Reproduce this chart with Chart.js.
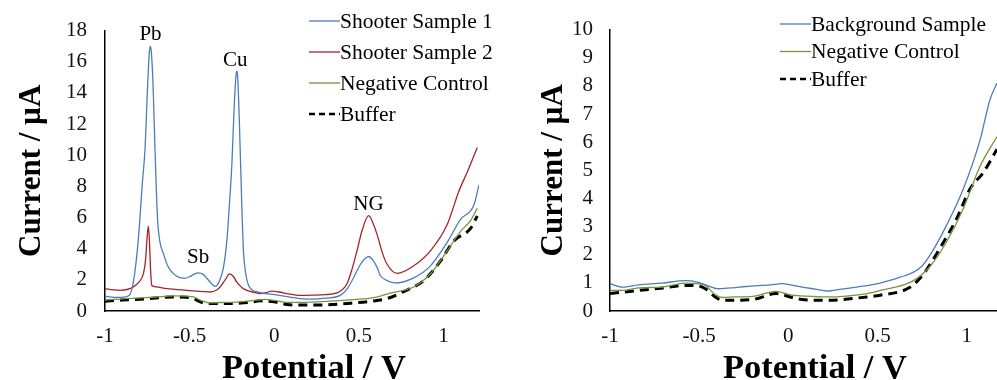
<!DOCTYPE html>
<html>
<head>
<meta charset="utf-8">
<script src="https://cdn.jsdelivr.net/npm/chart.js@4.4.1/dist/chart.umd.min.js"></script>
<style>
  html, body { margin: 0; padding: 0; background: #fff; }
  #wrap { position: relative; width: 997px; height: 380px; overflow: hidden; }
  .panel { position: absolute; top: 0; height: 380px; }
</style>
</head>
<body>
<div id="wrap">
  <div class="panel" style="left:0;width:500px"><canvas id="left" width="500" height="380"></canvas></div>
  <div class="panel" style="left:500px;width:497px"><canvas id="right" width="497" height="380"></canvas></div>
</div>
<script>
// ---- left panel: shooter samples (potential V, current uA) ----
const shooter1Pot = [-1, -0.95, -0.9, -0.86, -0.84, -0.82, -0.8, -0.78, -0.763, -0.748, -0.738, -0.732, -0.726, -0.716, -0.704, -0.69, -0.675, -0.655, -0.63, -0.6, -0.566, -0.53, -0.5, -0.47, -0.448, -0.42, -0.398, -0.37, -0.349, -0.325, -0.3, -0.28, -0.265, -0.25, -0.235, -0.225, -0.221, -0.217, -0.207, -0.195, -0.182, -0.165, -0.152, -0.13, -0.1, -0.05, 0, 0.05, 0.1, 0.15, 0.233, 0.3, 0.39, 0.43, 0.46, 0.49, 0.51, 0.535, 0.558, 0.58, 0.608, 0.627, 0.667, 0.716, 0.824, 0.923, 1.022, 1.1, 1.18, 1.21];
const shooter1Cur = [0.95, 0.88, 0.88, 0.98, 1.45, 2.8, 5.0, 8.1, 10.5, 14.5, 16.6, 17.0, 16.6, 14.5, 10.2, 6.0, 4.4, 3.7, 2.9, 2.45, 2.17, 2.1, 2.2, 2.38, 2.45, 2.35, 2.1, 1.75, 1.58, 1.9, 2.8, 4.5, 6.8, 9.5, 13.5, 15.2, 15.4, 15.2, 12.5, 8.0, 3.9, 2.2, 1.65, 1.35, 1.22, 1.12, 1.05, 0.97, 0.88, 0.8, 0.76, 0.82, 1.0, 1.4, 1.96, 2.6, 3.0, 3.35, 3.5, 3.3, 2.8, 2.28, 1.95, 1.8, 2.13, 2.9, 4.4, 5.87, 6.8, 8.1];

const shooter2Pot = [-1, -0.95, -0.91, -0.87, -0.833, -0.8, -0.773, -0.76, -0.752, -0.744, -0.738, -0.73, -0.724, -0.7, -0.635, -0.517, -0.42, -0.379, -0.34, -0.32, -0.29, -0.264, -0.24, -0.221, -0.19, -0.162, -0.12, -0.083, -0.04, -0.014, 0.03, 0.075, 0.154, 0.233, 0.3, 0.371, 0.43, 0.46, 0.489, 0.52, 0.558, 0.585, 0.608, 0.64, 0.667, 0.726, 0.824, 0.923, 1.022, 1.09, 1.14, 1.2];
const shooter2Cur = [1.44, 1.35, 1.33, 1.38, 1.54, 1.85, 2.4, 3.3, 4.6, 5.44, 4.6, 2.5, 1.65, 1.55, 1.44, 1.33, 1.25, 1.22, 1.35, 1.54, 2.0, 2.38, 2.2, 1.85, 1.5, 1.33, 1.2, 1.12, 1.2, 1.28, 1.22, 1.12, 1.0, 1.02, 1.05, 1.16, 1.75, 2.7, 3.86, 5.2, 6.12, 5.6, 4.9, 3.7, 3.0, 2.42, 2.9, 3.86, 5.55, 7.66, 8.9, 10.5];

const negLeftPot = [-1, -0.9, -0.79, -0.7, -0.596, -0.52, -0.477, -0.438, -0.4, -0.379, -0.3, -0.2, -0.1, -0.053, 0, 0.075, 0.15, 0.25, 0.33, 0.43, 0.568, 0.627, 0.686, 0.824, 0.923, 1.022, 1.1, 1.16, 1.2];
const negLeftCur = [0.7, 0.78, 0.84, 0.9, 0.97, 0.95, 0.9, 0.7, 0.55, 0.53, 0.55, 0.59, 0.7, 0.74, 0.68, 0.55, 0.55, 0.58, 0.63, 0.7, 0.82, 0.95, 1.15, 1.54, 2.39, 3.86, 5.1, 5.8, 6.6];

const bufLeftPot = [-1, -0.9, -0.79, -0.6, -0.52, -0.477, -0.44, -0.4, -0.3, -0.24, -0.15, -0.083, 0, 0.075, 0.154, 0.25, 0.35, 0.43, 0.568, 0.667, 0.765, 0.884, 0.982, 1.061, 1.16, 1.2];
const bufLeftCur = [0.63, 0.7, 0.76, 0.9, 0.88, 0.8, 0.6, 0.49, 0.48, 0.49, 0.55, 0.65, 0.59, 0.42, 0.38, 0.38, 0.42, 0.48, 0.62, 0.8, 1.25, 1.96, 3.2, 4.5, 5.3, 6.1];

// ---- right panel: background sample ----
const bgPot = [-1, -0.93, -0.84, -0.708, -0.577, -0.51, -0.465, -0.39, -0.3, -0.24, -0.1, -0.035, 0.02, 0.077, 0.15, 0.217, 0.3, 0.385, 0.515, 0.627, 0.702, 0.75, 0.796, 0.889, 0.982, 1.076, 1.13, 1.17];
const bgCur = [0.97, 0.85, 0.93, 0.99, 1.08, 1.03, 0.93, 0.79, 0.83, 0.87, 0.93, 0.97, 0.92, 0.85, 0.78, 0.71, 0.78, 0.85, 0.99, 1.2, 1.38, 1.6, 2.0, 3.07, 4.35, 6.1, 7.5, 8.1];

const negRightPot = [-1, -0.93, -0.84, -0.708, -0.577, -0.51, -0.465, -0.418, -0.37, -0.3, -0.2, -0.07, 0.02, 0.067, 0.217, 0.441, 0.515, 0.702, 0.796, 0.889, 0.982, 1.076, 1.17];
const negRightCur = [0.73, 0.73, 0.82, 0.85, 0.99, 0.97, 0.91, 0.62, 0.48, 0.5, 0.52, 0.7, 0.56, 0.54, 0.5, 0.62, 0.73, 1.08, 1.6, 2.48, 3.65, 5.16, 6.2];

const bufRightPot = [-1, -0.84, -0.7, -0.577, -0.5, -0.465, -0.41, -0.37, -0.2, -0.07, 0.02, 0.077, 0.217, 0.441, 0.515, 0.684, 0.758, 0.852, 0.945, 1.02, 1.094, 1.17];
const bufRightCur = [0.62, 0.73, 0.82, 0.91, 0.88, 0.79, 0.5, 0.38, 0.41, 0.62, 0.48, 0.41, 0.38, 0.5, 0.56, 0.85, 1.32, 2.25, 3.3, 4.35, 4.93, 5.75];

const xTicks = [-1, -0.5, 0, 0.5, 1];
const peakLabels = ['Pb', 'Sb', 'Cu', 'NG'];
const peakPot = [-0.731, -0.45, -0.231, 0.557];
const peakCur = [17.4, 3.1, 15.7, 6.5];

const SERIF = "'Liberation Serif', 'Times New Roman', serif";
const BLUE = '#4a7ebb', RED = '#a8222a', GREEN = '#77933c', BLACK = '#000';

// draws the in-plot legend, peak names and the x axis title
const extras = {
  id: 'extras',
  afterDraw(chart, args, opts) {
    const ctx = chart.ctx;
    ctx.save();
    ctx.fillStyle = '#000';
    ctx.font = '21px ' + SERIF;
    ctx.textAlign = 'center';
    ctx.textBaseline = 'alphabetic';
    (opts.peaks || []).forEach(p => {
      ctx.fillText(p.text, chart.scales.x.getPixelForValue(p.v), chart.scales.y.getPixelForValue(p.i));
    });

    ctx.font = '21.5px ' + SERIF;
    ctx.textAlign = 'left';
    ctx.textBaseline = 'middle';
    chart.data.datasets.forEach((ds, k) => {
      const y = opts.legendY + k * opts.legendGap;
      ctx.beginPath();
      ctx.strokeStyle = ds.borderColor;
      ctx.lineWidth = ds.borderDash.length ? 2.5 : 1.3;
      ctx.setLineDash(ds.borderDash.length ? [6, 4] : []);
      ctx.moveTo(opts.legendX, y);
      ctx.lineTo(opts.legendX + 31, y);
      ctx.stroke();
      ctx.setLineDash([]);
      ctx.fillText(ds.label, opts.legendX + 31, y + 1);
    });

    ctx.font = 'bold 34.5px ' + SERIF;
    ctx.textAlign = 'center';
    ctx.textBaseline = 'alphabetic';
    ctx.fillText('Potential / V', opts.titleX, 378);
    ctx.restore();
  }
};

function line(label, pot, cur, color, dashed) {
  return {
    label: label,
    data: pot.map((v, i) => ({ x: v, y: cur[i] })),
    borderColor: color,
    borderWidth: dashed ? 3 : 1.3,
    borderDash: dashed ? [9, 6] : [],
    pointRadius: 0,
    cubicInterpolationMode: 'monotone',
    fill: false
  };
}

function panel(id, datasets, o) {
  return new Chart(document.getElementById(id), {
    type: 'line',
    data: { datasets: datasets },
    options: {
      responsive: false,
      animation: false,
      devicePixelRatio: 1,
      layout: { padding: { top: 25, right: o.padRight, left: 0, bottom: 0 } },
      plugins: {
        legend: { display: false },
        tooltip: { enabled: false },
        extras: o.extras
      },
      scales: {
        x: {
          type: 'linear', min: -1, max: o.xMax,
          grid: { display: false, drawTicks: false },
          border: { color: '#000', width: 1.5 },
          afterBuildTicks: s => { s.ticks = xTicks.map(v => ({ value: v })); },
          ticks: { padding: 13, color: '#111', autoSkip: false, callback: v => String(v),
                   font: { family: SERIF, size: 21 } },
          afterFit: s => { s.height = 69; }
        },
        y: {
          min: 0, max: o.yMax,
          grid: { display: false, drawTicks: false },
          border: { color: '#000', width: 1.5 },
          ticks: { stepSize: o.yStep, padding: o.tickPad, color: '#111', autoSkip: false,
                   font: { family: SERIF, size: 21 } },
          title: { display: true, text: 'Current / µA', color: '#000', padding: { top: o.titlePad, bottom: 0 },
                   font: { family: SERIF, size: 31, weight: 'bold' } },
          afterFit: s => { s.width = o.yWidth; }
        }
      }
    },
    plugins: [extras]
  });
}

panel('left', [
  line('Shooter Sample 1', shooter1Pot, shooter1Cur, BLUE),
  line('Shooter Sample 2', shooter2Pot, shooter2Cur, RED),
  line('Negative Control', negLeftPot, negLeftCur, GREEN),
  line('Buffer', bufLeftPot, bufLeftCur, BLACK, true)
], {
  xMax: 1.21, yMax: 18, yStep: 2, yWidth: 105, padRight: 21, tickPad: 18, titlePad: 13,
  extras: {
    peaks: peakLabels.map((t, i) => ({ text: t, v: peakPot[i], i: peakCur[i] })),
    legendX: 309, legendY: 21, legendGap: 31, titleX: 314
  }
});

panel('right', [
  line('Background Sample', bgPot, bgCur, BLUE),
  line('Negative Control', negRightPot, negRightCur, GREEN),
  line('Buffer', bufRightPot, bufRightCur, BLACK, true)
], {
  xMax: 1.17, yMax: 10, yStep: 1, yWidth: 110, padRight: 0, tickPad: 17, titlePad: 35,
  extras: {
    peaks: [],
    legendX: 280, legendY: 24, legendGap: 27.5, titleX: 315
  }
});
</script>
</body>
</html>
